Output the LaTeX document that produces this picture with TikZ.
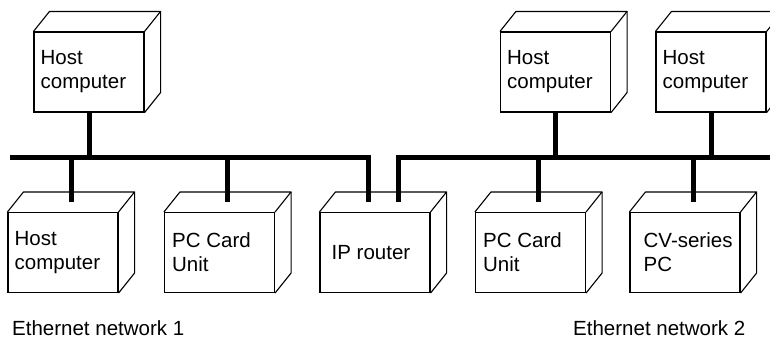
\documentclass[tikz,border=0pt]{standalone}
\usepackage{fontspec}
\setmainfont{Liberation Sans}
\begin{document}
\begin{tikzpicture}[x=1pt,y=-1pt,
  face/.style={draw,line width=1.1pt,minimum width=110pt,minimum height=80pt,inner sep=0pt},
  lbl/.style={font=\fontsize{20.5}{24}\selectfont,align=left,inner sep=0pt,anchor=west},
  netlbl/.style={font=\fontsize{20.5}{24}\selectfont,inner sep=0pt,anchor=base west},
  bus/.style={line width=5pt,line cap=butt,line join=miter},
  edge/.style={line width=1.1pt,line join=round}]
\useasboundingbox (0,0) rectangle (770,338);
\newcommand\depth[1]{%
  \draw[edge] (#1.north west) -- ++(16,-20) -- ([shift={(16,-20)}]#1.north east) -- (#1.north east);
  \draw[edge] ([shift={(16,-20)}]#1.north east) -- ([shift={(16,-20)}]#1.south east) -- (#1.south east);
  \coordinate (#1top) at ([shift={(8,-10)}]#1.north);}
% boxes (front faces)
\node[face] (h1) at (89,72) {};
\node[face] (h2) at (555.5,72) {};
\node[face] (h3) at (711,72) {};
\node[face] (a) at (63,252.5) {};
\node[face] (b) at (219.5,252.5) {};
\node[face] (r) at (375,252.5) {};
\node[face] (d) at (530.5,252.5) {};
\node[face] (e) at (685,252.5) {};
\depth{h1}\depth{h2}\depth{h3}\depth{a}\depth{b}\depth{r}\depth{d}\depth{e}
% labels
\node[lbl] (th1) at ([xshift=7pt]h1.west) {Host\\computer};
\node[lbl] (th2) at ([xshift=7pt]h2.west) {Host\\computer};
\node[lbl] (th3) at ([xshift=7pt]h3.west) {Host\\computer};
\node[lbl] (ta) at ([xshift=7pt]a.west) {Host\\computer};
\node[lbl] (tb) at ([xshift=8pt]b.west) {PC Card\\Unit};
\node[lbl] (tr) at ([xshift=12pt]r.west) {IP router};
\node[lbl] (td) at ([xshift=8pt]d.west) {PC Card\\Unit};
\node[lbl] (te) at ([xshift=14pt]e.west) {CV-series\\PC};
\node[netlbl] (n1) at (12,335) {Ethernet network 1};
\node[netlbl] (n2) at (573,335) {Ethernet network 2};
% buses
\coordinate (b1w) at (10,157);
\coordinate (b2e) at (775,157);
\draw[bus] (b1w) -- ([xshift=-15pt]rtop |- b1w) -- ([xshift=-15pt]rtop);
\draw[bus] (b2e) -- ([xshift=15pt]rtop |- b2e) -- ([xshift=15pt]rtop);
% drops
\foreach \n in {h1,h2,h3} \draw[bus] (\n.south) -- (\n.south |- b1w);
\foreach \n in {a,b,d,e} \draw[bus] (\n top) -- (\n top |- b1w);
\end{tikzpicture}
\end{document}
